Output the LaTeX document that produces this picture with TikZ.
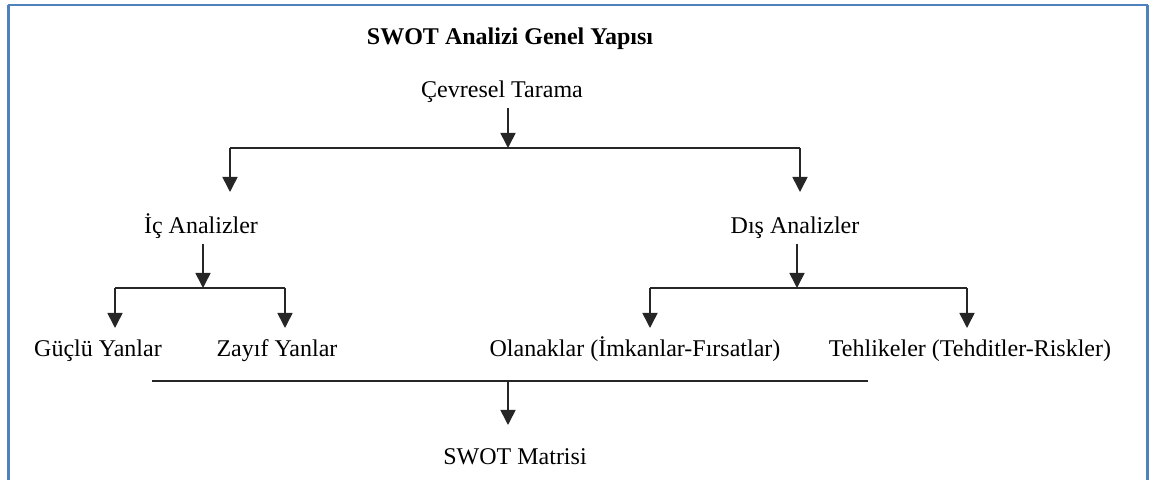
\documentclass[tikz,border=0pt]{standalone}
\usepackage{fontspec}
\setmainfont{Liberation Serif}
\usetikzlibrary{arrows.meta}
\definecolor{frameblue}{RGB}{79,129,189}

\begin{document}
\begin{tikzpicture}[x=0.5pt,y=-0.5pt,>={Triangle[width=7.5pt,length=7.5pt]},
	lbl/.style={anchor=base, inner sep=2pt, font=\fontsize{12}{14}\selectfont},
	conn/.style={line width=0.8pt, black!85}]
	\useasboundingbox (0,0) rectangle (1162,480);
	% frame
	\draw [frameblue, line width=1.5pt] (8.5,481) -- (8.5,5);
	\draw [frameblue, line width=0.9pt] (7.5,5) -- (1148,5);
	\draw [frameblue, line width=1.5pt] (1147,5) -- (1147,481);
	% texts
	\node [lbl, font=\fontsize{12}{14}\selectfont\bfseries] (title) at (510,45) {SWOT Analizi Genel Yapısı};
	\node [lbl] (cevre) at (502,98) {Çevresel Tarama};
	\node [lbl] (ic) at (201,234) {İç Analizler};
	\node [lbl] (dis) at (795,234) {Dış Analizler};
	\node [lbl] (guclu) at (98,357) {Güçlü Yanlar};
	\node [lbl] (zayif) at (277,357) {Zayıf Yanlar};
	\node [lbl] (olanak) at (635,357) {Olanaklar (İmkanlar-Fırsatlar)};
	\node [lbl] (tehlike) at (970,357) {Tehlikeler (Tehditler-Riskler)};
	\node [lbl] (matris) at (515,465) {SWOT Matrisi};
	% top branch
	\coordinate (t) at (508,148);
	\coordinate (tl) at (230,148);
	\coordinate (tr) at (800,148);
	\coordinate (icin) at (230,192);
	\coordinate (disin) at (800,192);
	\draw [conn,->] (t |- cevre.south) -- (t);
	\draw [conn] (tl) -- (tr);
	\draw [conn,->] (tl) -- (icin);
	\draw [conn,->] (tr) -- (disin);
	% left branch
	\coordinate (l) at (203,288);
	\coordinate (ll) at (115,288);
	\coordinate (lr) at (285,288);
	\coordinate (gin) at (115,328);
	\coordinate (zin) at (285,328);
	\draw [conn,->] (l |- ic.south) -- (l);
	\draw [conn] (ll) -- (lr);
	\draw [conn,->] (ll) -- (gin);
	\draw [conn,->] (lr) -- (zin);
	% right branch
	\coordinate (r) at (797,288);
	\coordinate (rl) at (650,288);
	\coordinate (rr) at (967,288);
	\coordinate (oin) at (650,328);
	\coordinate (tin) at (967,328);
	\draw [conn,->] (r |- dis.south) -- (r);
	\draw [conn] (rl) -- (rr);
	\draw [conn,->] (rl) -- (oin);
	\draw [conn,->] (rr) -- (tin);
	% bottom
	\coordinate (bl) at (152,381);
	\coordinate (br) at (868,381);
	\coordinate (b) at (508,381);
	\coordinate (min) at (508,425);
	\draw [conn] (bl) -- (br);
	\draw [conn,->] (b) -- (min);
\end{tikzpicture}
\end{document}
